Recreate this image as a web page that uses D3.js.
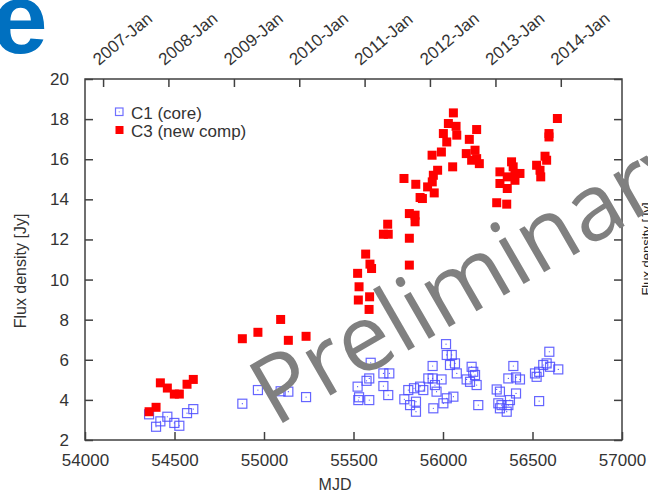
<!DOCTYPE html>
<html>
<head>
<meta charset="utf-8">
<script src="https://cdn.jsdelivr.net/npm/d3@7"></script>
<style>
  html, body { margin: 0; padding: 0; background: #fff; }
  svg { display: block; }
</style>
</head>
<body>
<svg id="chart" width="648" height="495"></svg>
<script>
// C1 (core) flux densities: MJD and Jy
const c1Mjd = [54358,54397,54421,54460,54499,54527,54570,54605,54879,54966,55093,55136,55235,
  55523,55527,55531,55588,55573,55596,55588,55667,55700,55667,55694,55784,55806,55816,55849,55849,
  55838,55872,55890,55918,55942,55942,55955,55964,55946,55992,56002,56021,56058,56017,56021,56049,
  56039,56067,56077,56160,56169,56179,56132,56151,56188,56197,56300,56318,56309,56327,56318,56356,
  56365,56374,56408,56365,56393,56408,56430,56514,56523,56537,56537,56560,56579,56598,56594,56644];
const c1Flux = [3.28,2.66,2.93,3.16,2.85,2.71,3.34,3.54,3.81,4.49,4.43,4.41,4.14,
  4.66,3.99,4.13,3.99,4.95,5.85,5.07,5.32,5.32,4.69,4.24,4.03,4.49,3.74,3.41,3.91,
  4.58,4.66,4.49,5.07,5.69,5.07,4.74,4.41,3.58,5.02,3.83,4.08,4.16,6.78,6.24,6.24,
  5.74,5.82,5.32,5.65,5.40,5.24,5.02,4.90,4.74,3.74,4.52,4.41,3.83,3.74,3.58,3.41,
  3.74,3.99,4.32,5.07,5.69,5.12,5.02,5.32,5.15,5.40,3.94,5.74,5.82,5.65,6.40,5.52];

// C3 (new component) flux densities: MJD and Jy
const c3Mjd = [54358,54397,54421,54460,54499,54527,54570,54605,54879,54966,55093,55136,55235,
  55523,55531,55527,55587,55590,55568,55592,55601,55667,55694,55691,55782,55812,55812,55812,
  55844,55844,55848,55872,55885,55914,55940,55951,55946,55970,55939,55991,56002,56021,56030,
  56058,56054,56073,56077,56130,56147,56160,56179,56188,56188,56203,56300,56356,56318,56318,
  56359,56359,56383,56392,56402,56402,56430,56523,56542,56546,56570,56579,56592,56592,56639];
const c3Flux = [3.41,3.63,4.85,4.59,4.29,4.29,4.78,5.02,7.05,7.37,8.01,6.97,7.17,
  10.31,9.64,8.98,8.51,9.14,11.27,10.77,10.55,12.26,12.26,12.76,15.04,12.06,13.29,10.72,
  13.21,12.88,14.75,14.09,14.04,14.62,14.87,14.32,15.20,15.45,16.20,16.36,17.28,16.86,17.78,
  18.31,15.62,17.64,17.20,16.28,16.99,15.95,16.45,17.48,16.03,15.78,13.83,13.76,15.37,14.79,
  15.12,14.54,15.87,15.62,15.29,14.95,15.29,15.70,15.45,15.12,16.15,15.95,17.28,17.11,18.03];

// Axis ticks
const mjdTicks = [54000,54500,55000,55500,56000,56500,57000];
const fluxTicks = [2,4,6,8,10,12,14,16,18,20];
// Calendar ticks on the top axis (1 January of each year, as MJD)
const yearLabels = ["2007-Jan","2008-Jan","2009-Jan","2010-Jan","2011-Jan","2012-Jan","2013-Jan","2014-Jan"];
const yearMjd = [54101,54466,54832,55197,55562,55927,56293,56658];

const legendLabels = ["C1 (core)", "C3 (new comp)"];

const svg = d3.select("#chart");
const plotL = 85, plotR = 622, plotT = 79, plotB = 440;
const x = d3.scaleLinear().domain([54000, 57000]).range([plotL, plotR]);
const y = d3.scaleLinear().domain([2, 20]).range([plotB, plotT]);

const axisColor = "#404040";
const textColor = "#333";
const font = "'Liberation Sans', Arial, sans-serif";

// Slide title fragment at the top-left corner
svg.append("text")
  .attr("x", -8).attr("y", 53)
  .attr("font-family", font).attr("font-weight", "bold")
  .attr("font-size", 100).attr("fill", "#0070c0")
  .text("e");

// Neighbouring panel's axis title at the right edge
svg.append("text")
  .attr("transform", "translate(651,249) rotate(-90)")
  .attr("text-anchor", "middle")
  .attr("font-family", font).attr("font-size", 13).attr("fill", "#222")
  .text("Flux density [Jy]");

// Axes with inward ticks
const gAxes = svg.append("g").attr("font-family", font);

const bottomAxis = d3.axisBottom(x).tickValues(mjdTicks).tickSizeInner(-8).tickSizeOuter(0).tickPadding(14).tickFormat(d3.format("d"));
gAxes.append("g").attr("transform", `translate(0,${plotB})`).call(bottomAxis);

const leftAxis = d3.axisLeft(y).tickValues(fluxTicks).tickSizeInner(-8).tickSizeOuter(0).tickPadding(16).tickFormat(d3.format("d"));
gAxes.append("g").attr("transform", `translate(${plotL},0)`).call(leftAxis);

const rightAxis = d3.axisRight(y).tickValues(fluxTicks).tickSizeInner(-8).tickSizeOuter(0).tickFormat("");
gAxes.append("g").attr("transform", `translate(${plotR},0)`).call(rightAxis);

const topAxis = d3.axisTop(x).tickValues(yearMjd).tickSizeInner(-8).tickSizeOuter(0).tickFormat("");
gAxes.append("g").attr("transform", `translate(0,${plotT})`).call(topAxis);

gAxes.selectAll(".domain").remove();
gAxes.selectAll(".tick line").attr("stroke", axisColor).attr("stroke-width", 1.5);
gAxes.selectAll(".tick text").attr("fill", textColor).attr("font-size", 17);

// Frame
svg.append("rect")
  .attr("x", plotL).attr("y", plotT)
  .attr("width", plotR - plotL).attr("height", plotB - plotT)
  .attr("fill", "none").attr("stroke", axisColor).attr("stroke-width", 1.5);

// Rotated calendar labels above the frame
svg.append("g").selectAll("text")
  .data(yearMjd)
  .join("text")
  .attr("transform", d => `translate(${x(d) - 4},${plotT - 13}) rotate(-40)`)
  .attr("font-family", font).attr("font-size", 17).attr("fill", textColor)
  .text((d, i) => yearLabels[i]);

// Axis titles
svg.append("text")
  .attr("x", 335).attr("y", 490)
  .attr("text-anchor", "middle")
  .attr("font-family", font).attr("font-size", 16).attr("fill", textColor)
  .text("MJD");

svg.append("text")
  .attr("transform", "translate(26,271) rotate(-90)")
  .attr("text-anchor", "middle")
  .attr("font-family", font).attr("font-size", 16).attr("fill", textColor)
  .text("Flux density [Jy]");

// Data points
const c1 = c1Mjd.map((m, i) => ({ m, f: c1Flux[i] }));
const c3 = c3Mjd.map((m, i) => ({ m, f: c3Flux[i] }));
const s = 9;

const gC1 = svg.append("g");
gC1.selectAll("rect")
  .data(c1)
  .join("rect")
  .attr("x", d => x(d.m) - s / 2).attr("y", d => y(d.f) - s / 2)
  .attr("width", s).attr("height", s)
  .attr("fill", "none").attr("stroke", "#4a4aff").attr("stroke-width", 1.2).attr("stroke-opacity", 0.85);
gC1.selectAll("circle")
  .data(c1)
  .join("circle")
  .attr("cx", d => x(d.m)).attr("cy", d => y(d.f)).attr("r", 0.6)
  .attr("fill", "#4a4aff");

svg.append("g").selectAll("rect")
  .data(c3)
  .join("rect")
  .attr("x", d => x(d.m) - s / 2).attr("y", d => y(d.f) - s / 2)
  .attr("width", s).attr("height", s)
  .attr("fill", "#ff0000");

// Legend
const legend = svg.append("g").attr("font-family", font).attr("font-size", 17).attr("fill", textColor);
legend.append("rect").attr("x", 115.5).attr("y", 108).attr("width", 7.5).attr("height", 7.5)
  .attr("fill", "none").attr("stroke", "#7070ff").attr("stroke-width", 1.2);
legend.append("circle").attr("cx", 119.2).attr("cy", 111.8).attr("r", 0.6).attr("fill", "#7070ff");
legend.append("rect").attr("x", 115.5).attr("y", 126).attr("width", 8).attr("height", 8)
  .attr("fill", "#ff0000");
legend.append("text").attr("x", 131).attr("y", 118.5).text(legendLabels[0]);
legend.append("text").attr("x", 131).attr("y", 136.5).text(legendLabels[1]);

// Watermark across the plot
svg.append("text")
  .attr("transform", "translate(275,427.5) rotate(-30)")
  .attr("font-family", "'Open Sans', sans-serif").attr("font-size", 93)
  .attr("fill", "#808080")
  .text("Preliminary");
</script>
</body>
</html>
